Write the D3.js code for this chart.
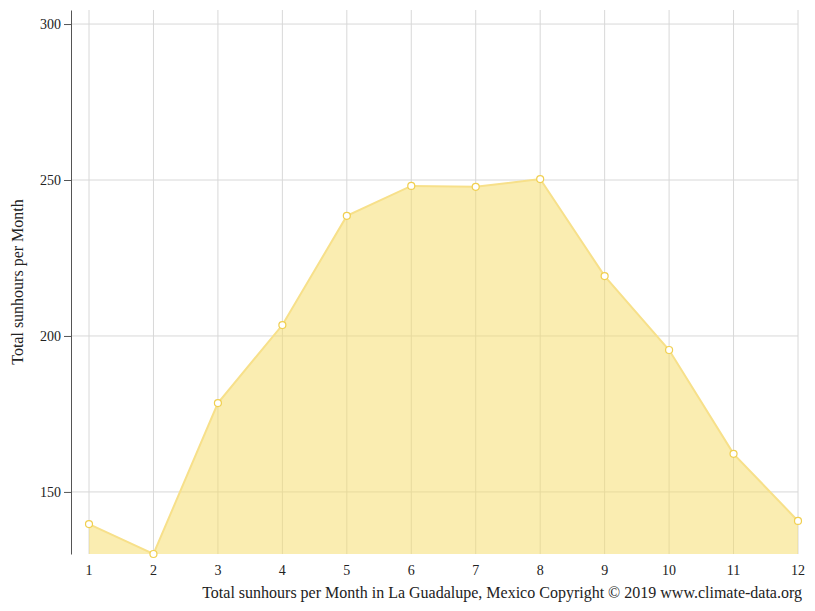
<!DOCTYPE html>
<html><head><meta charset="utf-8">
<script src="https://cdn.jsdelivr.net/npm/d3@7"></script>
<style>body{margin:0;background:#fff}text{font-family:"Liberation Serif",serif}</style>
</head><body><svg id="c" width="815" height="611"></svg>
<script>
const months = [1,2,3,4,5,6,7,8,9,10,11,12];
const sunhours = [139.7,130.1,178.5,203.5,238.5,248.1,247.8,250.3,219.2,195.5,162.2,140.7];
const yTicks = [150,200,250,300];

const svg = d3.select("#c");
const x = d3.scaleLinear().domain([1,12]).range([89,798]);
const y = d3.scaleLinear().domain([130.1,304.5]).range([554,10]);

const g = svg.append("g");
g.selectAll(".hg").data(yTicks).join("line")
 .attr("x1",71).attr("x2",798).attr("y1",d=>y(d)).attr("y2",d=>y(d))
 .attr("stroke","#d8d8d8");
g.selectAll(".vg").data(months).join("line")
 .attr("x1",d=>x(d)).attr("x2",d=>x(d)).attr("y1",10).attr("y2",554)
 .attr("stroke","#d8d8d8");

g.append("path").datum(sunhours)
 .attr("d",d3.area().x((d,i)=>x(months[i])).y0(554).y1(d=>y(d)))
 .attr("fill","rgba(245,220,100,0.5)");
g.append("path").datum(sunhours)
 .attr("d",d3.line().x((d,i)=>x(months[i])).y(d=>y(d)))
 .attr("fill","none").attr("stroke","#f7e08a").attr("stroke-width",2);
g.selectAll("circle").data(sunhours).join("circle")
 .attr("cx",(d,i)=>x(months[i])).attr("cy",d=>y(d)).attr("r",3.5)
 .attr("fill","#fff").attr("stroke","#f0cf50").attr("stroke-width",1.2);

const ya = svg.append("g").attr("transform","translate(71,0)")
 .call(d3.axisLeft(y).tickValues(yTicks).tickSize(7).tickSizeOuter(0));
ya.select(".domain").attr("stroke","#555");
ya.selectAll("line").attr("stroke","#555");
ya.selectAll("text").attr("font-size",14).attr("fill","#222").attr("font-family","Liberation Serif, serif");

svg.selectAll(".xl").data(months).join("text")
 .attr("x",d=>x(d)).attr("y",575).attr("text-anchor","middle")
 .attr("font-size",14).attr("fill","#222").text(d=>d);

svg.append("text").attr("transform","translate(23,282) rotate(-90)")
 .attr("text-anchor","middle").attr("font-size",16).attr("fill","#222")
 .text("Total sunhours per Month");
svg.append("text").attr("x",802).attr("y",598).attr("text-anchor","end")
 .attr("font-size",16).attr("fill","#222")
 .text("Total sunhours per Month in La Guadalupe, Mexico Copyright © 2019 www.climate-data.org");
</script></body></html>
